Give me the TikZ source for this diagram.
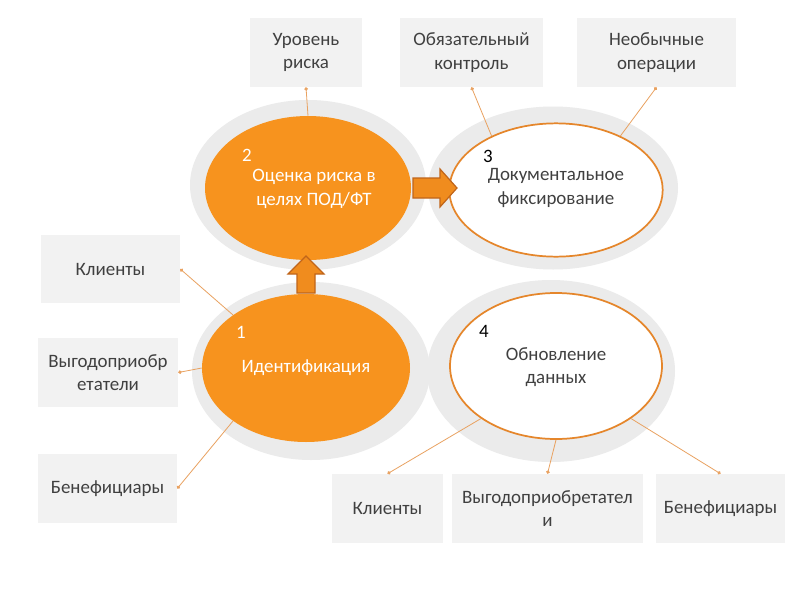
\documentclass[tikz,border=0pt]{standalone}
\usepackage{fontspec}
\setmainfont{Carlito}
\usetikzlibrary{shapes.geometric,arrows.meta}
\definecolor{orng}{HTML}{F7931E}
\definecolor{orbord}{HTML}{E5862B}
\definecolor{ringgray}{HTML}{EBEBEB}
\definecolor{boxgray}{HTML}{F2F2F2}
\definecolor{txtgray}{HTML}{404040}
\definecolor{lineor}{HTML}{E9A261}
\definecolor{arrfill}{HTML}{F08C1E}
\definecolor{arrbord}{HTML}{C0651A}
\begin{document}
\begin{tikzpicture}[x=0.75pt,y=-0.75pt,font=\fontsize{14.2}{17.6}\selectfont,
  box/.style={fill=boxgray,inner sep=0pt,text=txtgray,align=center,minimum height=51.75pt},
  ring/.style={ellipse,fill=ringgray,inner sep=0pt},
  fullell/.style={ellipse,fill=orng,inner sep=0pt},
  openell/.style={ellipse,fill=white,draw=orbord,line width=1.3pt,inner sep=0pt},
  conn/.style={draw=lineor,line width=0.6pt,{Circle[length=2.6pt]}-},
  blockarrow/.style={fill=arrfill,draw=arrbord,line width=0.9pt,line join=miter},
  wtxt/.style={text=white,align=center,inner sep=0pt},
  dtxt/.style={text=txtgray,align=center,inner sep=0pt}]
\useasboundingbox (0,0) rectangle (800,600);
\fill[white] (0,0) rectangle (800,600);

% rings
\node[ring,minimum width=177pt,minimum height=127.5pt] (g2) at (308,185) {};
\node[ring,minimum width=187.5pt,minimum height=122.25pt] (g3) at (553,188) {};
\node[ring,minimum width=178.5pt,minimum height=133.5pt] (g1) at (311,371) {};
\node[ring,minimum width=186pt,minimum height=136.5pt] (g4) at (551,371) {};

% ellipses
\node[fullell,minimum width=154.5pt,minimum height=108pt] (e2) at (308,188) {};
\node[openell,minimum width=160pt,minimum height=100pt] (e3) at (556,190) {};
\node[fullell,minimum width=156pt,minimum height=111pt] (e1) at (306,368) {};
\node[openell,minimum width=159pt,minimum height=109.5pt] (e4) at (556,366) {};

% ellipse texts
\node[wtxt] (n2) at (247,155) {2};
\node[wtxt] (t2) at (314,189) {Оценка риска в\\целях ПОД/ФТ};
\node[text=black,inner sep=0pt] (n3) at (488,156) {3};
\node[dtxt] (t3) at (556,188) {Документальное\\фиксирование};
\node[wtxt] (n1) at (241,332) {1};
\node[wtxt] (t1) at (306,368) {Идентификация};
\node[text=black,inner sep=0pt] (n4) at (484,331) {4};
\node[dtxt] (t4) at (556,367) {Обновление\\данных};

% block arrows
\draw[blockarrow] (413,178) -- (440,178) -- (440,169) -- (457,188) -- (440,207) -- (440,198) -- (413,198) -- cycle;
\draw[blockarrow] (297,293) -- (297,274) -- (288,274) -- (306,256) -- (324,274) -- (315,274) -- (315,293) -- cycle;

% boxes
\node[box,minimum width=84pt] (rU) at (306,52.5) {Уровень\\риска};
\node[box,minimum width=107.25pt] (rO) at (471.5,52.5) {Обязательный\\контроль};
\node[box,minimum width=119.25pt] (rN) at (656.5,52.5) {Необычные\\операции};
\node[box,minimum width=104.25pt,minimum height=51pt] (lK) at (110.5,269) {Клиенты};
\node[box,minimum width=105pt] (lV) at (108,372.5) {Выгодоприобр\\етатели};
\node[box,minimum width=104.25pt] (lB) at (107.5,488.5) {Бенефициары};
\node[box,minimum width=83.25pt] (bK) at (387.5,508.5) {Клиенты};
\node[box,minimum width=143.25pt] (bV) at (547.5,508.5) {Выгодоприобретател\\и};
\node[box,minimum width=96.75pt] (bB) at (720.5,508.5) {Бенефициары};

% connectors
\draw[conn] (rU.south) -- (e2.90);
\draw[conn] (rO.south) -- (e3.140);
\draw[conn] (rN.south) -- (e3.40);
\draw[conn] (lK.east) -- (e1.144);
\draw[conn] (lV.east) -- (e1.180);
\draw[conn] (lB.east) -- (e1.216);
\draw[conn] (bK.north) -- (e4.215);
\draw[conn] (bV.north) -- (e4.270);
\draw[conn] (bB.north) -- (e4.325);
\end{tikzpicture}
\end{document}
